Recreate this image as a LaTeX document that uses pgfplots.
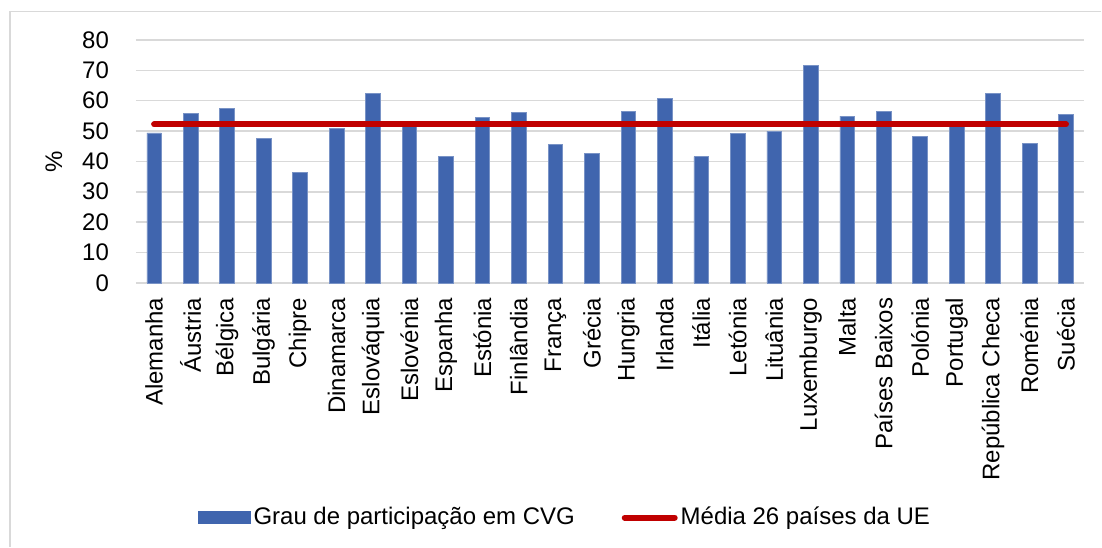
\documentclass[border=0pt]{standalone}
\usepackage{fontspec}
\setmainfont{Liberation Sans}
\usepackage{pgfplots}
\pgfplotsset{compat=1.18}

\definecolor{barblue}{RGB}{64,101,174}
\definecolor{avgred}{RGB}{192,0,0}
\definecolor{gridgray}{RGB}{217,217,217}

\newcommand{\chartfont}{\fontsize{12}{14.4}\selectfont}

\begin{document}
\begin{tikzpicture}
% frame (top and left edge as in the reference)
\draw[gridgray, line width=0.8pt] (551pt,267.75pt) -- (5pt,267.75pt) -- (5pt,0pt);
\path (0,0) rectangle (551pt,273.5pt);

\begin{axis}[
  at={(68pt,132pt)}, anchor=south west,
  scale only axis,
  width=474.5pt, height=121.5pt,
  xmin=-0.5, xmax=25.5,
  ymin=0, ymax=80,
  ytick={0,10,...,80},
  xtick={0,...,25},
  xticklabels={Alemanha,Áustria,Bélgica,Bulgária,Chipre,Dinamarca,Eslováquia,Eslovénia,Espanha,Estónia,Finlândia,França,Grécia,Hungria,Irlanda,Itália,Letónia,Lituânia,Luxemburgo,Malta,Países Baixos,Polónia,Portugal,República Checa,Roménia,Suécia},
  x tick label style={rotate=90, anchor=east, xshift=-4pt},
  yticklabel style={xshift=-10pt},
  tick style={draw=none},
  axis line style={draw=none},
  ymajorgrids,
  grid style={gridgray, line width=0.8pt},
  font=\chartfont,
  /pgf/number format/assume math mode=true,
  ylabel={\%},
  ylabel style={at={(axis description cs:-0.0864,0.5)}, anchor=center},
  legend columns=2,
  legend style={at={(axis description cs:0.453,-0.967)}, anchor=center, draw=none,
    font=\chartfont, /tikz/every even column/.append style={column sep=22pt},
    nodes={inner sep=1.5pt}},
  clip=false,
]
\draw[gridgray, line width=0.8pt] (axis cs:-0.5,0) -- (axis cs:25.5,0);
\addplot[ybar, bar width=7.3pt, fill=barblue, draw=barblue!70!white, line width=0.3pt,
  legend image code/.code={\fill[barblue] (0pt,-3pt) rectangle (26pt,3pt);}]
  coordinates {
  (0,49.4) (1,55.8) (2,57.5) (3,47.6) (4,36.3) (5,50.9) (6,62.3) (7,51.5)
  (8,41.6) (9,54.4) (10,56.2) (11,45.6) (12,42.7) (13,56.4) (14,60.8)
  (15,41.6) (16,49.3) (17,50.0) (18,71.5) (19,54.9) (20,56.6) (21,48.2)
  (22,51.8) (23,62.3) (24,46.0) (25,55.5)
  };
\addlegendentry{Grau de participação em CVG}
\addplot[avgred, line width=3pt, line cap=round, mark=none,
  legend image code/.code={\draw[avgred, line width=3pt, line cap=round] (1.5pt,0pt) -- (26.5pt,0pt);}]
  coordinates {(0,52.2) (25,52.2)};
\addlegendentry{Média 26 países da UE}
\end{axis}
\end{tikzpicture}
\end{document}
